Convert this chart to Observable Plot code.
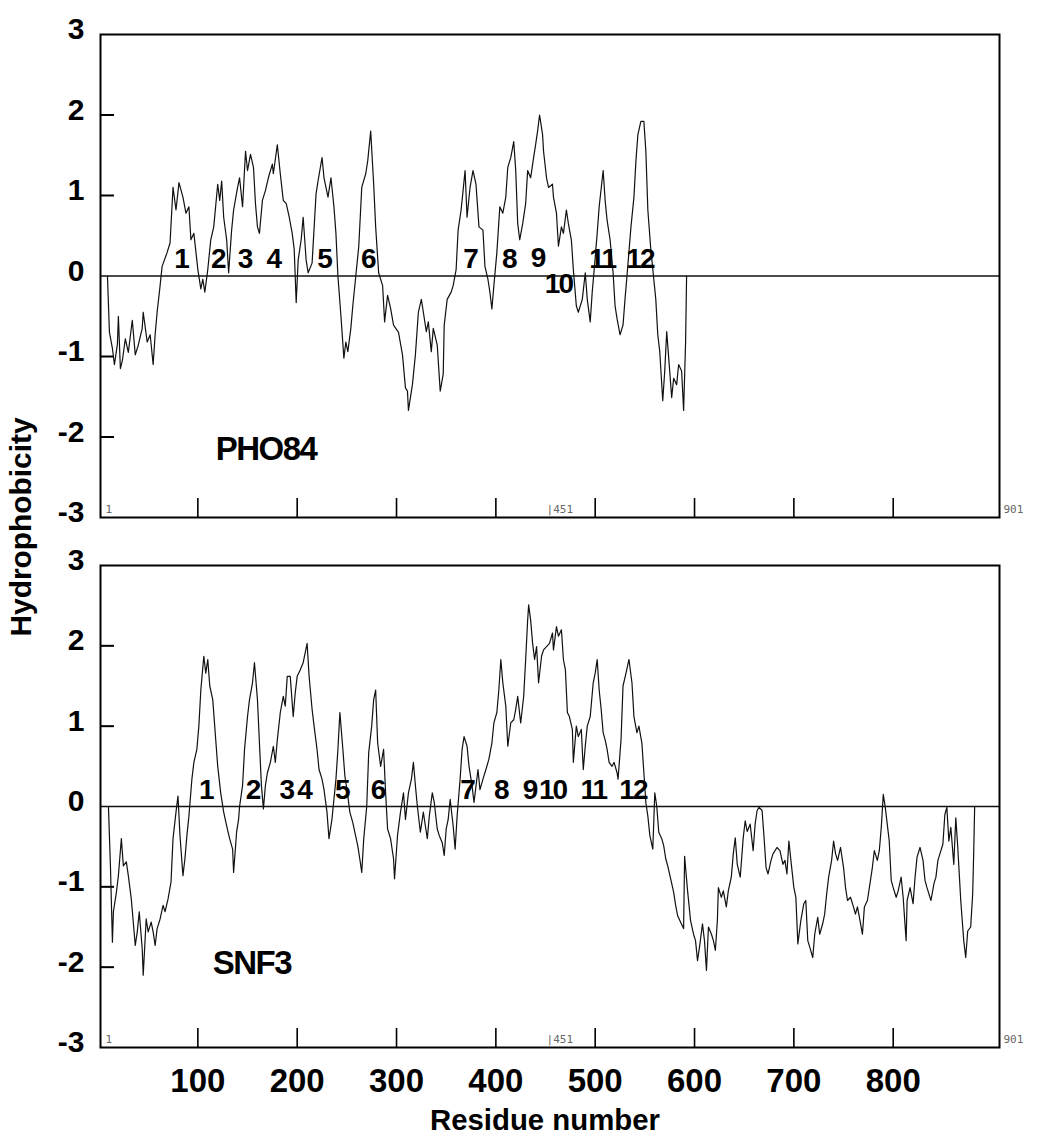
<!DOCTYPE html>
<html>
<head>
<meta charset="utf-8">
<script src="https://cdn.jsdelivr.net/npm/d3@7"></script>
<script src="https://cdn.jsdelivr.net/npm/@observablehq/plot@0.6"></script>
<style>
  body { margin: 0; background: #fff; }
  #wrap { position: relative; width: 1046px; height: 1138px; background: #fff; overflow: hidden; }
  .panel { position: absolute; left: 0; }
  .tm text { letter-spacing: -2px; }
  .name text { letter-spacing: -1.5px; }
  #titles { position: absolute; left: 0; top: 0; pointer-events: none; }
</style>
</head>
<body>
<div id="wrap">
  <div id="top" class="panel" style="top:0px"></div>
  <div id="bottom" class="panel" style="top:530px"></div>
  <svg id="titles" width="1046" height="1138">
    <text x="545" y="1130" text-anchor="middle" textLength="230" lengthAdjust="spacingAndGlyphs"
      font-family="'Liberation Sans', Arial, sans-serif" font-weight="bold" font-size="30" fill="#000">Residue number</text>
    <text transform="translate(31,527) rotate(-90)" text-anchor="middle" textLength="219" lengthAdjust="spacingAndGlyphs"
      font-family="'Liberation Sans', Arial, sans-serif" font-weight="bold" font-size="30" fill="#000">Hydrophobicity</text>
  </svg>
</div>
<script>
// ---- axis ticks ----
const xTicks = [100, 200, 300, 400, 500, 600, 700, 800];
const yTicks = [-3, -2, -1, 0, 1, 2, 3];
const yInnerTicks = [-2, -1, 1, 2];

// ---- PHO84 hydrophobicity profile [residue, value] ----
const pho84 = [[9,0],[11,-0.7],[14,-0.9],[16,-1.1],[19,-0.85],[20,-0.5],[22,-1.15],[24,-1.05],[27,-0.78],[30,-0.95],[34,-0.55],[37,-0.98],[40,-0.86],[44,-0.65],[45,-0.45],[49,-0.82],[52,-0.73],[55,-1.1],[57,-0.73],[59,-0.45],[62,-0.12],[64,0.12],[69,0.29],[72,0.41],[75,1.1],[78,0.82],[81,1.16],[85,0.98],[88,0.78],[91,0.86],[93,0.45],[96,0.53],[100,0.08],[103,-0.16],[105,-0.04],[107,-0.2],[110,0.08],[113,0.45],[116,0.61],[120,1.14],[122,0.94],[124,1.18],[126,0.73],[129,0.45],[131,0.04],[134,0.57],[136,0.82],[140,1.1],[142,1.22],[145,0.86],[148,1.55],[150,1.31],[153,1.51],[156,1.35],[158,0.9],[160,0.61],[162,0.53],[165,0.94],[168,1.06],[171,1.22],[175,1.39],[176,1.27],[180,1.63],[183,1.27],[186,0.94],[189,0.9],[192,0.73],[195,0.53],[197,0.33],[199,-0.33],[201,0.2],[204,0.45],[206,0.73],[209,0.2],[211,0.04],[215,0.16],[219,1.02],[221,1.18],[225,1.47],[227,1.22],[231,0.98],[234,1.22],[237,0.86],[239,0.53],[241,0],[244,-0.49],[247,-1.02],[249,-0.82],[251,-0.94],[254,-0.65],[256,-0.37],[259,0],[262,0.37],[265,1.1],[269,1.27],[271,1.43],[274,1.8],[277,1.14],[279,0.61],[282,0.04],[286,-0.12],[288,-0.57],[291,-0.24],[294,-0.4],[297,-0.61],[302,-0.7],[306,-0.98],[309,-1.39],[311,-1.43],[312,-1.67],[316,-1.35],[319,-0.98],[322,-0.45],[325,-0.29],[327,-0.45],[330,-0.69],[332,-0.57],[335,-0.94],[337,-0.65],[341,-0.86],[344,-1.43],[347,-1.22],[348,-0.61],[351,-0.29],[355,-0.2],[357,-0.12],[360,0.08],[362,0.57],[365,0.82],[367,1.06],[369,1.31],[371,0.73],[374,1.1],[377,1.31],[380,1.14],[383,0.61],[387,0.57],[389,0.12],[392,-0.04],[394,-0.2],[396,-0.41],[398,-0.12],[401,0.29],[404,0.86],[407,0.78],[410,0.98],[412,1.35],[415,1.47],[418,1.67],[420,1.31],[422,0.65],[424,0.45],[427,0.65],[430,0.9],[432,1.31],[435,1.22],[438,1.47],[440,1.63],[442,1.8],[444,2.0],[447,1.76],[448,1.55],[451,1.22],[453,1.1],[457,1.14],[458,0.98],[461,0.78],[463,0.37],[466,0.61],[468,0.53],[471,0.82],[473,0.65],[476,0.45],[478,0.08],[481,-0.37],[483,-0.45],[487,-0.29],[490,0.04],[492,-0.29],[495,-0.57],[497,-0.2],[499,0.08],[502,0.53],[504,0.86],[508,1.31],[510,0.94],[512,0.69],[515,0.45],[518,0.04],[520,-0.37],[522,-0.53],[525,-0.73],[528,-0.61],[530,-0.29],[532,0],[536,0.61],[539,0.98],[541,1.43],[543,1.76],[546,1.92],[549,1.92],[551,1.55],[553,0.82],[556,0.33],[559,-0.04],[561,-0.29],[563,-0.73],[565,-0.94],[568,-1.55],[570,-1.18],[572,-0.69],[574,-1.02],[577,-1.51],[579,-1.27],[582,-1.35],[584,-1.1],[587,-1.18],[589,-1.67],[591,-0.82],[592,0]];

// ---- SNF3 hydrophobicity profile [residue, value] ----
const snf3 = [[10,0],[12,-0.74],[14,-1.69],[15,-1.31],[18,-1.07],[20,-0.86],[23,-0.4],[25,-0.74],[28,-0.69],[30,-0.86],[33,-1.15],[35,-1.44],[37,-1.73],[39,-1.56],[41,-1.31],[44,-1.77],[45,-2.1],[48,-1.4],[50,-1.56],[53,-1.44],[55,-1.56],[57,-1.73],[59,-1.52],[62,-1.4],[65,-1.23],[67,-1.31],[70,-1.15],[73,-0.94],[75,-0.4],[78,-0.07],[80,0.13],[82,-0.36],[85,-0.86],[87,-0.65],[89,-0.36],[91,-0.12],[94,0.34],[96,0.55],[99,0.71],[101,1.0],[103,1.45],[106,1.87],[108,1.66],[110,1.83],[112,1.5],[115,1.33],[118,0.83],[120,0.5],[123,0.17],[126,-0.07],[129,-0.24],[132,-0.4],[135,-0.53],[136,-0.82],[139,-0.32],[141,-0.16],[142,0],[145,0.26],[147,0.71],[150,1.12],[152,1.33],[155,1.54],[157,1.79],[160,1.33],[162,0.79],[164,0.26],[166,-0.03],[168,0.26],[170,0.42],[173,0.55],[176,0.75],[178,0.55],[180,0.83],[183,1.17],[186,1.37],[188,1.25],[190,1.62],[193,1.62],[196,1.12],[198,1.41],[200,1.62],[203,1.7],[206,1.79],[208,1.91],[210,2.03],[212,1.62],[215,1.21],[217,1.0],[220,0.71],[222,0.46],[225,0.34],[227,0.21],[230,-0.07],[232,-0.4],[235,-0.16],[237,0.09],[239,0.34],[241,0.71],[243,1.17],[246,0.71],[248,0.38],[251,0.13],[253,-0.07],[256,-0.2],[258,-0.32],[261,-0.49],[263,-0.65],[265,-0.82],[267,-0.4],[270,0],[272,0.67],[275,1.0],[277,1.33],[279,1.45],[281,0.79],[284,0.5],[287,0.71],[289,0.17],[291,-0.28],[294,-0.4],[297,-0.65],[298,-0.9],[301,-0.36],[304,-0.07],[307,0.17],[309,-0.16],[312,0.17],[315,0.34],[317,0.55],[319,0.26],[321,0],[324,-0.32],[327,-0.07],[329,-0.24],[331,-0.4],[333,-0.12],[336,0.17],[338,0.05],[341,-0.28],[343,-0.36],[346,-0.45],[348,-0.61],[350,-0.28],[352,-0.16],[354,0.09],[357,-0.24],[359,-0.53],[361,-0.12],[364,0.34],[366,0.71],[368,0.87],[371,0.75],[373,0.5],[376,0.26],[378,0.05],[382,0.46],[384,0.21],[387,0.34],[390,0.46],[393,0.59],[396,0.79],[398,1.04],[401,1.17],[403,1.45],[405,1.83],[407,1.54],[410,1.25],[412,0.75],[415,1.04],[418,1.08],[420,1.21],[422,1.37],[425,1.04],[428,1.37],[430,1.83],[432,2.32],[433,2.51],[435,2.32],[437,2.03],[439,1.83],[441,1.99],[443,1.54],[446,1.87],[448,1.95],[451,1.99],[454,2.03],[457,2.16],[458,1.95],[461,2.24],[463,2.12],[466,2.2],[468,1.83],[470,1.7],[472,1.17],[474,1.12],[477,0.96],[478,0.55],[481,1.0],[483,0.87],[486,0.96],[488,0.46],[490,0.75],[492,1.0],[495,1.12],[498,1.54],[500,1.66],[502,1.83],[504,1.45],[506,1.21],[508,0.92],[510,0.83],[512,0.71],[514,0.55],[517,0.5],[519,0.55],[522,0.42],[523,0.34],[526,0.83],[528,1.5],[531,1.66],[534,1.83],[537,1.54],[539,1.12],[542,0.92],[544,1.0],[547,0.79],[549,0.42],[551,0.05],[553,-0.12],[555,-0.36],[558,-0.53],[560,0.17],[562,0],[564,-0.32],[567,-0.4],[569,-0.49],[571,-0.65],[573,-0.74],[576,-0.9],[579,-1.07],[581,-1.23],[583,-1.36],[586,-1.44],[589,-1.52],[590,-0.62],[593,-1.05],[596,-1.42],[599,-1.59],[601,-1.67],[603,-1.92],[605,-1.75],[608,-1.46],[610,-1.67],[612,-2.04],[614,-1.5],[617,-1.59],[619,-1.67],[621,-1.79],[623,-1.42],[624,-1.01],[627,-1.13],[629,-1.05],[632,-1.25],[634,-1.05],[637,-0.88],[639,-0.59],[641,-0.39],[643,-0.72],[646,-0.88],[649,-0.39],[651,-0.18],[653,-0.31],[656,-0.22],[659,-0.55],[661,-0.22],[663,-0.05],[665,-0.01],[668,-0.05],[670,-0.39],[672,-0.76],[674,-0.84],[677,-0.67],[679,-0.59],[683,-0.51],[686,-0.55],[689,-0.72],[691,-0.67],[693,-0.84],[695,-0.43],[697,-0.67],[700,-1.01],[702,-1.13],[704,-1.71],[707,-1.42],[710,-1.21],[712,-1.17],[714,-1.67],[716,-1.75],[719,-1.88],[721,-1.59],[724,-1.38],[726,-1.59],[729,-1.46],[731,-1.34],[733,-1.09],[735,-0.88],[738,-0.67],[740,-0.43],[742,-0.59],[744,-0.67],[747,-0.51],[750,-0.76],[752,-1.01],[754,-1.17],[757,-1.13],[760,-1.25],[762,-1.34],[764,-1.25],[766,-1.38],[769,-1.59],[771,-1.25],[774,-1.17],[776,-1.01],[779,-0.76],[781,-0.55],[784,-0.67],[786,-0.55],[788,-0.26],[790,0.15],[792,-0.01],[794,-0.22],[796,-0.43],[798,-0.92],[800,-1.01],[803,-1.13],[805,-1.05],[808,-0.88],[810,-1.13],[813,-1.67],[814,-1.17],[817,-1.01],[820,-1.21],[822,-0.88],[824,-0.63],[827,-0.51],[830,-0.67],[832,-0.92],[834,-1.01],[838,-1.17],[841,-0.96],[843,-0.88],[845,-0.67],[847,-0.59],[850,-0.47],[852,-0.1],[854,-0.01],[856,-0.43],[858,-0.26],[861,-0.72],[863,-0.14],[865,-0.51],[868,-1.17],[871,-1.67],[873,-1.88],[875,-1.55],[878,-1.5],[880,-1.09],[881,-0.59],[882,0]];

// ---- transmembrane segment labels ----
const tmLabels = ["1","2","3","4","5","6","7","8","9","10","11","12"];
const pho84TmResidue = [83, 120, 147, 176, 227, 271, 374, 413, 442, 463, 507, 545];
const pho84TmValue = [0.21, 0.21, 0.21, 0.21, 0.21, 0.21, 0.21, 0.21, 0.22, -0.1, 0.21, 0.21];
const snf3TmResidue = [108, 155, 189, 207, 245, 281, 371, 405, 434, 457, 498, 538];
const snf3TmValue = [0.2, 0.2, 0.2, 0.2, 0.2, 0.2, 0.2, 0.2, 0.2, 0.2, 0.2, 0.2];

// ---- panel names and small plotter marks ----
const panelNames = ["PHO84", "SNF3"];
const panelNameResidue = [118, 115];
const panelNameValue = [-2.15, -1.95];
const cornerLabels = ["1", "|451", "901"];
const midLabelResidue = 451;

const FONT = "'Liberation Sans', Arial, sans-serif";
const MONO = "'DejaVu Sans Mono', 'Liberation Mono', monospace";

function makePanel(series, tmR, tmV, idx, showX, marginTop, height, marginBottom) {
  const pts = series.map(([r, v]) => ({r, v}));
  const tms = tmLabels.map((t, i) => ({t, r: tmR[i], v: tmV[i]}));
  const plotH = height - marginTop - marginBottom;
  const plotW = 1046 - 100 - 47;
  const small = {fontSize: 11, fontFamily: MONO, fill: "#666"};
  const marks = [
    Plot.ruleY([0], {stroke: "#111", strokeWidth: 1.3}),
    Plot.tickY(yInnerTicks, {y: d => d, insetRight: plotW - 14, stroke: "#000", strokeWidth: 2}),
    Plot.tickX(xTicks, {x: d => d, insetTop: plotH - 19, stroke: "#000", strokeWidth: 1.6}),
    Plot.line(pts, {x: "r", y: "v", stroke: "#111", strokeWidth: 1.2}),
    Plot.text(tms, {x: "r", y: "v", text: "t", fontSize: 28, fontWeight: "bold", fontFamily: FONT, fill: "#000", className: "tm"}),
    Plot.text([panelNames[idx]], {x: panelNameResidue[idx], y: panelNameValue[idx], text: d => d, textAnchor: "start",
      fontSize: 33, fontWeight: "bold", fontFamily: FONT, fill: "#000", className: "name"}),
    Plot.axisY(yTicks, {tickSize: 0, tickPadding: 16, fontSize: 30, fontWeight: "bold", fontFamily: FONT, dy: -5,
      tickFormat: d => String(d), label: null}),
    Plot.text([cornerLabels[0]], {frameAnchor: "bottom-left", text: d => d, dx: 5, dy: -5, ...small}),
    Plot.text([cornerLabels[1]], {x: midLabelResidue, frameAnchor: "bottom", text: d => d, textAnchor: "start", dy: -5, ...small}),
    Plot.text([cornerLabels[2]], {frameAnchor: "bottom-right", text: d => d, textAnchor: "start", dx: 4, dy: -5, ...small}),
    Plot.frame({stroke: "#000", strokeWidth: 2})
  ];
  if (showX) {
    marks.push(Plot.axisX(xTicks, {tickSize: 0, tickPadding: 21, fontSize: 33, fontWeight: "bold", fontFamily: FONT,
      tickFormat: d => String(d), label: null}));
  }
  return Plot.plot({
    width: 1046, height, marginLeft: 100, marginRight: 47, marginTop, marginBottom,
    x: {domain: [2, 907], axis: showX ? undefined : null},
    y: {domain: [-3, 3]},
    style: {fontFamily: FONT, color: "#000", background: "transparent", overflow: "visible"},
    marks
  });
}

document.getElementById("top").appendChild(makePanel(pho84, pho84TmResidue, pho84TmValue, 0, false, 34, 530, 13));
document.getElementById("bottom").appendChild(makePanel(snf3, snf3TmResidue, snf3TmValue, 1, true, 35, 608, 91));
</script>
</body>
</html>
